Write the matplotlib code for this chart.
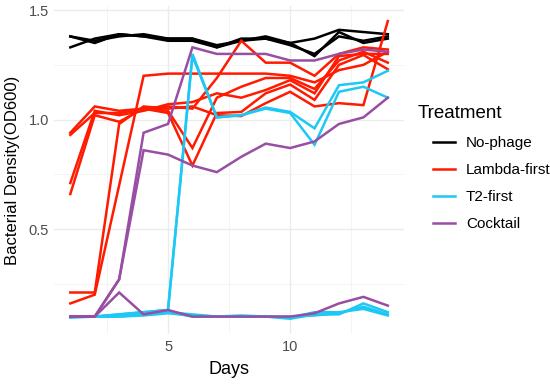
import numpy as np
import matplotlib
matplotlib.use("Agg")
import matplotlib.pyplot as plt
from matplotlib.lines import Line2D

plt.rcParams['font.family'] = ['Liberation Sans', 'DejaVu Sans']

days = np.arange(1, 15)

# No-phage replicates
no_phage = [
    [1.38, 1.36, 1.38, 1.39, 1.37, 1.37, 1.33, 1.37, 1.37, 1.35, 1.37, 1.41, 1.40, 1.39],
    [1.33, 1.37, 1.39, 1.38, 1.37, 1.37, 1.34, 1.36, 1.37, 1.34, 1.30, 1.38, 1.36, 1.38],
    [1.38, 1.35, 1.39, 1.38, 1.36, 1.36, 1.33, 1.36, 1.38, 1.35, 1.29, 1.40, 1.35, 1.37],
]

# Lambda-first replicates
lambda_first = [
    [0.94, 1.06, 1.04, 1.05, 1.06, 1.05, 1.19, 1.36, 1.26, 1.26, 1.20, 1.30, 1.33, 1.32],
    [0.93, 1.03, 1.03, 1.05, 1.04, 0.87, 1.10, 1.15, 1.19, 1.19, 1.14, 1.27, 1.31, 1.26],
    [0.71, 1.04, 1.02, 1.04, 1.07, 1.08, 1.12, 1.10, 1.135, 1.18, 1.12, 1.29, 1.30, 1.30],
    [0.66, 1.02, 0.99, 1.05, 1.03, 0.79, 1.03, 1.035, 1.12, 1.16, 1.09, 1.25, 1.295, 1.23],
    [0.21, 0.21, 0.98, 1.06, 1.05, 1.06, 1.02, 1.016, 1.075, 1.127, 1.06, 1.075, 1.066, 1.45],
    [0.16, 0.20, 0.70, 1.20, 1.21, 1.21, 1.21, 1.21, 1.21, 1.20, 1.17, 1.226, 1.25, 1.31],
]

# T2-first replicates
t2_first = [
    [0.10, 0.10, 0.11, 0.12, 0.13, 1.30, 1.01, 1.02, 1.055, 1.035, 0.96, 1.157, 1.17, 1.223],
    [0.10, 0.10, 0.11, 0.12, 0.13, 1.29, 1.01, 1.02, 1.05, 1.03, 0.885, 1.127, 1.15, 1.10],
    [0.10, 0.10, 0.105, 0.11, 0.12, 0.10, 0.10, 0.10, 0.10, 0.09, 0.11, 0.11, 0.16, 0.12],
    [0.10, 0.10, 0.10, 0.11, 0.12, 0.11, 0.10, 0.10, 0.10, 0.10, 0.105, 0.115, 0.145, 0.11],
    [0.095, 0.10, 0.10, 0.105, 0.115, 0.105, 0.10, 0.105, 0.10, 0.095, 0.12, 0.12, 0.135, 0.105],
]

# Cocktail replicates
cocktail = [
    [0.10, 0.10, 0.27, 0.94, 0.98, 1.33, 1.30, 1.30, 1.30, 1.27, 1.27, 1.30, 1.32, 1.31],
    [0.10, 0.10, 0.27, 0.86, 0.84, 0.79, 0.76, 0.83, 0.89, 0.87, 0.90, 0.98, 1.01, 1.10],
    [0.10, 0.10, 0.21, 0.11, 0.13, 0.10, 0.10, 0.10, 0.10, 0.10, 0.115, 0.16, 0.19, 0.15],
]

treatments = ['No-phage', 'Lambda-first', 'T2-first', 'Cocktail']
colors = ['black', '#ff1a00', '#1ec8f5', '#984ea3']
groups = [no_phage, lambda_first, t2_first, cocktail]

fig = plt.figure(figsize=(5.5, 3.84), dpi=100)
ax = fig.add_axes([0.099, 0.130, 0.635, 0.855])

for reps, col in zip(groups, colors):
    for r in reps:
        ax.plot(days, r, color=col, lw=1.8, solid_joinstyle='miter')

ax.set_xlim(0.35, 14.65)
ax.set_ylim(0.02, 1.52)
ax.set_xticks([5, 10])
ax.set_xticks([2.5, 7.5, 12.5], minor=True)
ax.set_yticks([0.5, 1.0, 1.5])
ax.set_yticks([0.25, 0.75, 1.25], minor=True)
ax.grid(which='major', color='#ebebeb', lw=1.0)
ax.grid(which='minor', color='#f2f2f2', lw=0.6)
ax.set_axisbelow(True)
for s in ax.spines.values():
    s.set_visible(False)
ax.tick_params(which='both', length=0, labelsize=10.5, labelcolor='#4d4d4d', pad=4)
ax.set_xlabel('Days', fontsize=13, labelpad=5)
ax.set_ylabel('Bacterial Density(OD600)', fontsize=12, labelpad=6)

handles = [Line2D([0], [0], color=c, lw=1.8) for c in colors]
fig.text(0.76, 0.705, 'Treatment', fontsize=13.5, va='center', ha='left')
fig.legend(handles, treatments, loc='upper left', bbox_to_anchor=(0.776, 0.662),
           frameon=False, fontsize=11, handlelength=1.45, handletextpad=0.72,
           labelspacing=0.86, borderaxespad=0)

fig.savefig('out.png', dpi=100)
